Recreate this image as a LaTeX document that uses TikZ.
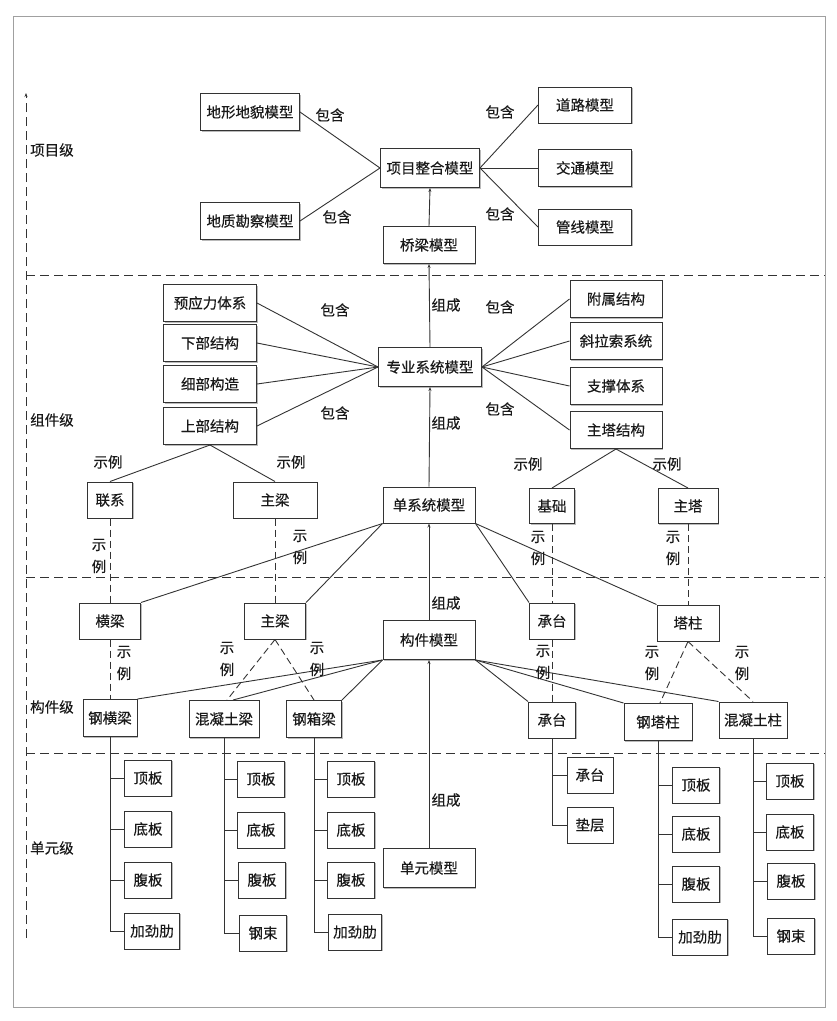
\documentclass[tikz,border=0pt]{standalone}
\usepackage{fontspec}
\newfontfamily\cjk{Noto Sans CJK SC}[FakeBold=0.3]
\usetikzlibrary{arrows.meta,shadows}
\definecolor{ln}{HTML}{333333}
\definecolor{fr}{HTML}{A0A0A0}
\begin{document}
\begin{tikzpicture}[x=1pt,y=-1pt,
  every node/.style={font=\cjk\fontsize{14.5}{22}\selectfont, text=black!90},
  box/.style={draw=ln, fill=white, line width=1pt, inner sep=0pt, minimum height=37pt,
    drop shadow={shadow xshift=1.3pt, shadow yshift=-1.3pt, fill=black!45, opacity=0.6}},
  conn/.style={draw=ln, line width=0.9pt},
  ex/.style={draw=ln, line width=0.9pt, dash pattern=on 7pt off 4pt},
  up/.style={conn, -{Stealth[length=4pt,width=3pt]}},
  lvl/.style={draw=ln, line width=0.9pt, dash pattern=on 9pt off 5pt},
  lab/.style={inner sep=0pt},
  stk/.style={inner sep=0pt, align=center},
]
\useasboundingbox (0,0) rectangle (837,1021);
\draw[fr, line width=0.8pt] (13,16) rectangle (825,1007);

% level axis and separators
\coordinate (axb) at (26,938);
\coordinate (axt) at (26,93);
\draw[lvl, -{Stealth[length=4pt,width=3pt]}] (axb) -- (axt);
\coordinate (h1l) at (26,275); \coordinate (h1r) at (825,275);
\coordinate (h2l) at (26,577); \coordinate (h2r) at (825,577);
\coordinate (h3l) at (26,753); \coordinate (h3r) at (825,753);
\draw[lvl] (h1l) -- (h1r);
\draw[lvl] (h2l) -- (h2r);
\draw[lvl] (h3l) -- (h3r);

\node[lab, anchor=west] (L1) at (30,150) {项目级};
\node[lab, anchor=west] (L2) at (30,420) {组件级};
\node[lab, anchor=west] (L3) at (30,707) {构件级};
\node[lab, anchor=west] (L4) at (30,848) {单元级};

% project level
\node[box, minimum width=99pt] (dx) at (250,112) {地形地貌模型};
\node[box, minimum width=99pt] (dz) at (250,221) {地质勘察模型};
\node[box, minimum width=99pt, minimum height=39pt] (xm) at (430,168) {项目整合模型};
\node[box, minimum width=92pt] (ql) at (429,245) {桥梁模型};
\node[box, minimum width=93pt, minimum height=36pt] (dl) at (585,105) {道路模型};
\node[box, minimum width=93pt] (jt) at (585,168) {交通模型};
\node[box, minimum width=93pt, minimum height=36pt] (gx) at (585,227) {管线模型};

% component-system level
\node[box, minimum width=93pt] (yyl) at (210,303) {预应力体系};
\node[box, minimum width=93pt] (xb) at (210,343) {下部结构};
\node[box, minimum width=93pt] (xbgz) at (210,384) {细部构造};
\node[box, minimum width=93pt] (sb) at (210,426) {上部结构};
\node[box, minimum width=103pt, minimum height=39pt] (zy) at (430,367) {专业系统模型};
\node[box, minimum width=92pt] (fs) at (616,299) {附属结构};
\node[box, minimum width=92pt] (xls) at (616,341) {斜拉索系统};
\node[box, minimum width=92pt] (zc) at (616,386) {支撑体系};
\node[box, minimum width=92pt] (zt) at (616,430) {主塔结构};

\node[box, minimum width=45pt, minimum height=36pt] (lx) at (110,500) {联系};
\node[box, minimum width=84pt, minimum height=36pt] (zl2) at (275,500) {主梁};
\node[box, minimum width=92pt, minimum height=36pt] (dxt) at (429,505) {单系统模型};
\node[box, minimum width=45pt, minimum height=35pt] (jc) at (552,506) {基础};
\node[box, minimum width=60pt, minimum height=35pt] (zt2) at (688,506) {主塔};

% member level
\node[box, minimum width=61pt, minimum height=36pt] (hl) at (110,621) {横梁};
\node[box, minimum width=61pt, minimum height=36pt] (zl3) at (275,621) {主梁};
\node[box, minimum width=92pt, minimum height=39pt] (gj) at (429,640) {构件模型};
\node[box, minimum width=45pt, minimum height=36pt] (ct) at (552,621) {承台};
\node[box, minimum width=62pt, minimum height=36pt] (tz) at (688,623) {塔柱};
\node[box, minimum width=54pt] (ghl) at (110,718) {钢横梁};
\node[box, minimum width=70pt] (hnl) at (224,719) {混凝土梁};
\node[box, minimum width=55pt] (gxl) at (314,719) {钢箱梁};
\node[box, minimum width=47pt, minimum height=36pt] (ct2) at (552,720) {承台};
\node[box, minimum width=68pt] (gtz) at (658,722) {钢塔柱};
\node[box, minimum width=68pt, minimum height=36pt] (hnz) at (753,720) {混凝土柱};

% element level
\node[box, minimum width=92pt, minimum height=39pt] (dy) at (429,868) {单元模型};

\node[box, minimum width=47pt, minimum height=36pt] (c1a) at (148,778) {顶板};
\node[box, minimum width=47pt, minimum height=36pt] (c1b) at (148,829) {底板};
\node[box, minimum width=47pt, minimum height=36pt] (c1c) at (148,880) {腹板};
\node[box, minimum width=55pt, minimum height=36pt] (c1d) at (152,931) {加劲肋};
\node[box, minimum width=47pt, minimum height=36pt] (c2a) at (261,779) {顶板};
\node[box, minimum width=47pt, minimum height=36pt] (c2b) at (261,830) {底板};
\node[box, minimum width=47pt, minimum height=36pt] (c2c) at (262,880) {腹板};
\node[box, minimum width=47pt, minimum height=36pt] (c2d) at (263,933) {钢束};
\node[box, minimum width=47pt, minimum height=36pt] (c3a) at (351,779) {顶板};
\node[box, minimum width=47pt, minimum height=36pt] (c3b) at (351,830) {底板};
\node[box, minimum width=47pt, minimum height=36pt] (c3c) at (351,880) {腹板};
\node[box, minimum width=53pt, minimum height=36pt] (c3d) at (355,932) {加劲肋};
\node[box, minimum width=46pt, minimum height=36pt] (c4a) at (590,775) {承台};
\node[box, minimum width=46pt, minimum height=36pt] (c4b) at (590,825) {垫层};
\node[box, minimum width=47pt, minimum height=36pt] (c5a) at (696,785) {顶板};
\node[box, minimum width=47pt, minimum height=36pt] (c5b) at (696,834) {底板};
\node[box, minimum width=47pt, minimum height=36pt] (c5c) at (696,884) {腹板};
\node[box, minimum width=55pt, minimum height=36pt] (c5d) at (700,937) {加劲肋};
\node[box, minimum width=47pt, minimum height=36pt] (c6a) at (790,781) {顶板};
\node[box, minimum width=47pt, minimum height=36pt] (c6b) at (790,832) {底板};
\node[box, minimum width=47pt, minimum height=36pt] (c6c) at (791,881) {腹板};
\node[box, minimum width=47pt, minimum height=36pt] (c6d) at (791,936) {钢束};

% connectors: project level
\draw[conn] (dx.east) -- (xm.west);
\draw[conn] (dz.east) -- (xm.west);
\draw[conn] (xm.east) -- (dl.west);
\draw[conn] (xm.east) -- (jt.west);
\draw[conn] (xm.east) -- (gx.west);
\draw[up] (ql.north) -- (xm.south);
\draw[up] (zy.north) -- (ql.south);
\draw[up] (dxt.north) -- (zy.south);
\draw[up] (gj.north) -- (dxt.south);
\draw[up] (dy.north) -- (gj.south);

% system level
\foreach \n in {yyl,xb,xbgz,sb} \draw[conn] (\n.east) -- (zy.west);
\foreach \n in {fs,xls,zc,zt} \draw[conn] (zy.east) -- (\n.west);
\draw[conn] (sb.south) -- (lx.north);
\draw[conn] (sb.south) -- (zl2.north);
\draw[conn] (zt.south) -- (jc.north);
\draw[conn] (zt.south) -- (zt2.north);

% instance (dashed)
\draw[ex] (lx.south) -- (hl.north);
\draw[ex] (zl2.south) -- (zl3.north);
\draw[ex] (jc.south) -- (ct.north);
\draw[ex] (zt2.south) -- (tz.north);
\draw[ex] (hl.south) -- (ghl.north);
\draw[ex] (zl3.south) -- ([xshift=3pt]hnl.north);
\draw[ex] (zl3.south) -- (gxl.north);
\draw[ex] (ct.south) -- (ct2.north);
\draw[ex] (tz.south) -- ([xshift=2pt]gtz.north);
\draw[ex] (tz.south) -- (hnz.north);

% single system to members
\draw[conn] (dxt.south west) -- (hl.north east);
\draw[conn] (dxt.south west) -- (zl3.north east);
\draw[conn] (dxt.south east) -- (ct.north west);
\draw[conn] (dxt.south east) -- (tz.north west);

% member model to members
\draw[conn] (gj.south west) -- (ghl.north east);
\draw[conn] (gj.south west) -- ([xshift=9pt]hnl.north);
\draw[conn] (gj.south west) -- (gxl.north east);
\draw[conn] (gj.south east) -- (ct2.north west);
\draw[conn] (gj.south east) -- (gtz.north west);
\draw[conn] (gj.south east) -- (hnz.north west);

% element trees
\foreach \p/\c in {ghl/c1a,ghl/c1b,ghl/c1c,ghl/c1d,
                   hnl/c2a,hnl/c2b,hnl/c2c,hnl/c2d,
                   gxl/c3a,gxl/c3b,gxl/c3c,gxl/c3d,
                   ct2/c4a,ct2/c4b,
                   gtz/c5a,gtz/c5b,gtz/c5c,gtz/c5d,
                   hnz/c6a,hnz/c6b,hnz/c6c,hnz/c6d}
  \draw[conn] (\p.south) |- (\c.west);

% labels
\node[lab] (b1) at (330,115) {包含};
\node[lab] (b2) at (337,217) {包含};
\node[lab] (b3) at (500,112) {包含};
\node[lab] (b4) at (500,214) {包含};
\node[lab] (b5) at (335,310) {包含};
\node[lab] (b6) at (335,413) {包含};
\node[lab] (b7) at (500,307) {包含};
\node[lab] (b8) at (500,409) {包含};
\node[lab] (z1) at (446,305) {组成};
\node[lab] (z2) at (446,423) {组成};
\node[lab] (z3) at (446,603) {组成};
\node[lab] (z4) at (446,800) {组成};
\node[lab] (s1) at (108,462) {示例};
\node[lab] (s2) at (291,462) {示例};
\node[lab] (s3) at (528,464) {示例};
\node[lab] (s4) at (667,464) {示例};
\node[stk] (v1) at (99,556) {示\\例};
\node[stk] (v2) at (300,547) {示\\例};
\node[stk] (v3) at (124,663) {示\\例};
\node[stk] (v4) at (227,659) {示\\例};
\node[stk] (v5) at (317,659) {示\\例};
\node[stk] (v6) at (538,548) {示\\例};
\node[stk] (v7) at (673,548) {示\\例};
\node[stk] (v8) at (543,662) {示\\例};
\node[stk] (v9) at (652,663) {示\\例};
\node[stk] (v10) at (742,663) {示\\例};
\end{tikzpicture}
\end{document}
